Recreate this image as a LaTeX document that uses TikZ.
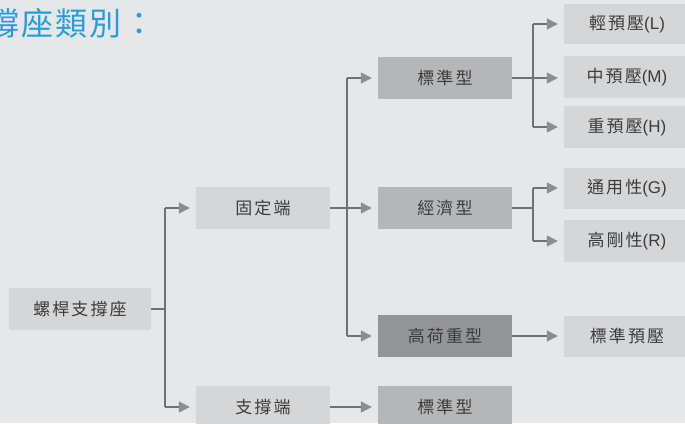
\documentclass[tikz,border=0pt]{standalone}
\usepackage{fontspec}
\setmainfont{Noto Sans CJK TC}
\newfontfamily\boxfont[LetterSpace=12]{Noto Sans CJK TC}
\newfontfamily\titlefont[LetterSpace=6]{Noto Sans CJK TC}
\newfontfamily\latinfont{Liberation Sans}
\newcommand{\lat}[1]{{\latinfont #1}}
\usetikzlibrary{arrows.meta}
\definecolor{bg}{RGB}{230,231,232}
\definecolor{lightbox}{RGB}{213,214,216}
\definecolor{midbox}{RGB}{181,182,184}
\definecolor{darkbox}{RGB}{147,148,150}
\definecolor{linegray}{RGB}{112,113,115}
\definecolor{arrowgray}{RGB}{140,141,143}
\definecolor{txtgray}{RGB}{60,60,60}
\definecolor{titleblue}{RGB}{35,160,220}
\tikzset{
  box/.style={minimum height=42pt, inner sep=0pt, text=txtgray,
    font=\boxfont\fontsize{17pt}{17pt}\selectfont},
  lbox/.style={box, fill=lightbox, minimum width=134pt},
  mbox/.style={box, fill=midbox, minimum width=134pt},
  dbox/.style={box, fill=darkbox, minimum width=134pt},
  rbox/.style={box, fill=lightbox, minimum width=126pt},
  conn/.style={draw=linegray, line width=1.3pt},
  arr/.style={conn, -{Triangle[length=11pt,width=11pt,color=arrowgray]}, shorten >=6pt},
}
\begin{document}
\begin{tikzpicture}[x=1pt,y=-1pt]
\useasboundingbox (0,0) rectangle (685,423);
\fill[bg] (0,0) rectangle (685,423);
\node[anchor=base west, inner sep=0pt, text=titleblue,
  font=\titlefont\fontsize{32pt}{32pt}\selectfont] (title) at (-114,35) {螺桿支撐座類別：};
% boxes
\node[lbox, minimum width=142pt] (root) at (80,309) {螺桿支撐座};
\node[lbox] (fixed) at (263,208) {固定端};
\node[lbox] (support) at (263,407) {支撐端};
\node[mbox] (std1) at (445,78) {標準型};
\node[mbox] (eco) at (445,208) {經濟型};
\node[dbox] (heavy) at (445,336) {高荷重型};
\node[mbox] (std2) at (445,407) {標準型};
\node[rbox, minimum height=40pt] (L) at (627,24) {輕預壓\lat{(L)}};
\node[rbox] (M) at (627,77) {中預壓\lat{(M)}};
\node[rbox] (H) at (627,127) {重預壓\lat{(H)}};
\node[rbox, minimum height=41pt] (G) at (627,188) {通用性\lat{(G)}};
\node[rbox] (R) at (627,241) {高剛性\lat{(R)}};
\node[rbox, minimum height=41pt] (P) at (627,336) {標準預壓};
% junction coordinates
\coordinate (j1) at (165,0);
\coordinate (j2) at (347,0);
\coordinate (j3) at (533,0);
% connectors
\draw[conn] (root.east) -- (root.east -| j1);
\draw[conn] (j1 |- fixed) -- (j1 |- support);
\draw[arr] (j1 |- fixed) -- (fixed.west);
\draw[arr] (j1 |- support) -- (support.west);
\draw[arr] (fixed.east) -- (eco.west);
\draw[conn] (j2 |- std1) -- (j2 |- heavy);
\draw[arr] (j2 |- std1) -- (std1.west);
\draw[arr] (j2 |- heavy) -- (heavy.west);
\draw[arr] (support.east) -- (std2.west);
\draw[arr] (std1.east) -- (std1.east -| M.west);
\draw[conn] (j3 |- L) -- (j3 |- H);
\draw[arr] (j3 |- L) -- (L.west);
\draw[arr] (j3 |- H) -- (H.west);
\draw[conn] (eco.east) -- (eco.east -| j3);
\draw[conn] (j3 |- G) -- (j3 |- R);
\draw[arr] (j3 |- G) -- (G.west);
\draw[arr] (j3 |- R) -- (R.west);
\draw[arr] (heavy.east) -- (P.west);
\end{tikzpicture}
\end{document}
